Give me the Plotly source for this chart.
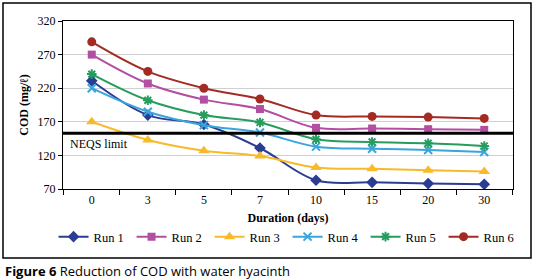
import plotly.graph_objects as go

days = ["0", "3", "5", "7", "10", "15", "20", "30"]
run1 = [231, 180, 166, 131, 83, 80, 78, 77]
run2 = [270, 227, 203, 189, 161, 160, 159, 158]
run3 = [170, 143, 127, 119, 102, 100, 98, 96]
run4 = [220, 185, 165, 154, 133, 130, 128, 125]
run5 = [241, 202, 180, 169, 144, 140, 138, 134]
run6 = [289, 245, 220, 204, 180, 178, 177, 175]
neqs_limit = 153
y_ticks = [70, 120, 170, 220, 270, 320]

series = [
    ("Run 1", run1, "#2B3D92", "diamond", 9),
    ("Run 2", run2, "#B24FA2", "square", 8),
    ("Run 3", run3, "#F8BA2A", "triangle-up", 10),
    ("Run 4", run4, "#3AA5DC", "x-thin", 8),
    ("Run 5", run5, "#279C5F", "asterisk", 8),
    ("Run 6", run6, "#A32B23", "circle", 9),
]

serif = "Liberation Serif"
fig = go.Figure()
for name, vals, col, sym, sz in series:
    thin = sym in ("x-thin", "asterisk")
    fig.add_trace(go.Scatter(
        x=days, y=vals, name=name, mode="lines+markers",
        line=dict(color=col, width=2, shape="spline", smoothing=1.0),
        marker=dict(symbol=sym, size=sz, color=col,
                    line=dict(color=col, width=2 if thin else 0)),
    ))

fig.add_shape(type="line", xref="paper", yref="y", x0=0, x1=1,
              y0=neqs_limit, y1=neqs_limit, line=dict(color="black", width=3))
fig.add_annotation(xref="paper", yref="y", x=0.01, y=neqs_limit, yshift=-11,
                   text="NEQS limit", showarrow=False, xanchor="left",
                   font=dict(family=serif, size=12, color="black"))

# outer frame
fig.add_shape(type="rect", xref="paper", yref="paper",
              x0=(3 - 63) / 450, x1=(531 - 63) / 450,
              y0=(189 - 258) / 168, y1=(189 - 3) / 168,
              line=dict(color="black", width=1.5))

fig.add_annotation(xref="paper", yref="paper", x=(3 - 63) / 450, y=(189 - 271) / 168,
                   text="<b>Figure 6</b> Reduction of COD with water hyacinth",
                   showarrow=False, xanchor="left", yanchor="middle",
                   font=dict(family="Open Sans", size=13, color="black"))

fig.update_layout(
    width=534, height=280,
    margin=dict(l=63, r=21, t=21, b=91, autoexpand=False),
    paper_bgcolor="white", plot_bgcolor="white",
    font=dict(family=serif, size=12, color="black"),
    showlegend=True,
    legend=dict(orientation="h", x=-0.021, y=(189 - 237) / 168, xanchor="left",
                yanchor="middle", font=dict(family=serif, size=12.5),
                entrywidth=33, itemwidth=30, traceorder="normal"),
    xaxis=dict(type="category", showline=True, linecolor="black", linewidth=1,
               mirror=True, ticks="outside", tickson="boundaries", ticklen=5,
               tickcolor="black", showgrid=False,
               title=dict(text="<b>Duration (days)</b>", standoff=7,
                          font=dict(family=serif, size=12))),
    yaxis=dict(range=[70, 320], tickvals=y_ticks, showline=True, linecolor="black",
               linewidth=1, mirror=True, ticks="outside", ticklen=4, tickcolor="black",
               showgrid=True, gridcolor="#D0D0D0", gridwidth=1, zeroline=False,
               title=dict(text="<b>COD (mg/ℓ)</b>", standoff=6,
                          font=dict(family=serif, size=12))),
)

fig.write_html("out.html", config={"displayModeBar": False},
               post_script="document.body.style.margin='0';document.body.style.overflow='hidden';")
